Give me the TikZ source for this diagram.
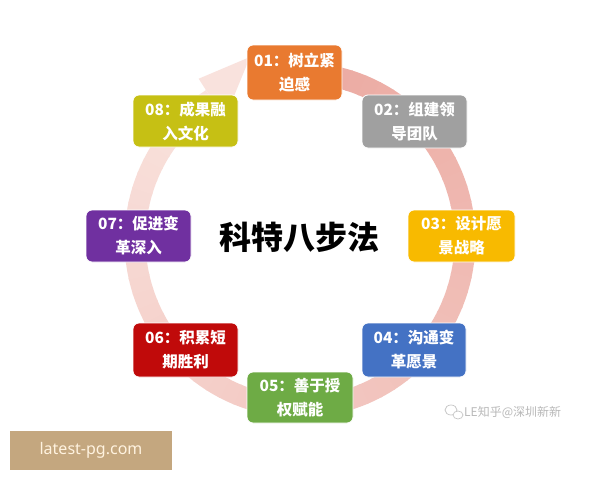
\documentclass[tikz,border=0pt]{standalone}
\usepackage{fontspec}
\setsansfont{Noto Sans}
\newfontfamily\cjk{Noto Sans CJK SC}
\definecolor{c1}{HTML}{E97A30}
\definecolor{c2}{HTML}{A0A0A0}
\definecolor{c3}{HTML}{F8BA00}
\definecolor{c4}{HTML}{4472C4}
\definecolor{c5}{HTML}{6EAB45}
\definecolor{c6}{HTML}{C00A0A}
\definecolor{c7}{HTML}{7030A0}
\definecolor{c8}{HTML}{C6C014}
\definecolor{ringA}{RGB}{236,172,164}
\definecolor{ringB}{RGB}{249,226,221}
\definecolor{site}{HTML}{C4A77F}
\definecolor{sitetext}{HTML}{FFF3E0}
\begin{document}
\begin{tikzpicture}[x=1pt,y=-1pt,
  stepbox/.style={rounded corners=6pt, minimum width=105pt, minimum height=53pt,
    inner sep=0pt, align=center, text=white, draw=white, line width=0.8pt,
    font=\cjk\bfseries\fontsize{15.5}{24}\selectfont},
  ringseg/.style={line width=21pt}
]
\useasboundingbox (0,0) rectangle (600,480);
\fill[white] (0,0) rectangle (600,480);
% ring
\foreach \i in {0,...,62} {
  \pgfmathsetmacro\a{78-5*\i}
  \pgfmathsetmacro\b{\a-5.6}
  \pgfmathsetmacro\p{100-\i*100/62}
  \draw[ringseg, color=ringA!\p!ringB] plot[domain=\b:\a, samples=5] ({300+165*cos(\x)},{240-167*sin(\x)});
}
\fill[ringB] (198.7,78.7) -- (250,57) -- (224.5,119.3) -- cycle;
% boxes
\node[stepbox, fill=c1, minimum width=95pt, minimum height=55pt] (b1) at (294.5,72.5) {01：树立紧\\迫感};
\node[stepbox, fill=c2] (b2) at (414.5,121.5) {02：组建领\\导团队};
\node[stepbox, fill=c3, minimum width=107pt, minimum height=52pt] (b3) at (461.5,236) {03：设计愿\\景战略};
\node[stepbox, fill=c4, minimum width=104pt, minimum height=54pt] (b4) at (414,350) {04：沟通变\\革愿景};
\node[stepbox, fill=c5, minimum width=106pt, minimum height=51pt] (b5) at (300,397.5) {05：善于授\\权赋能};
\node[stepbox, fill=c6, minimum height=54pt] (b6) at (185.5,350) {06：积累短\\期胜利};
\node[stepbox, fill=c7, minimum height=52pt] (b7) at (138.5,236) {07：促进变\\革深入};
\node[stepbox, fill=c8, minimum height=52pt] (b8) at (185.5,121) {08：成果融\\入文化};
% title
\node[font=\cjk\bfseries\fontsize{32}{32}\selectfont] (title) at (299,237) {科特八步法};
% site label
\node[fill=site, minimum width=162pt, minimum height=39pt, inner sep=0pt,
  text=sitetext, font=\sffamily\fontsize{16}{16}\selectfont] (site) at (91,450.5) {latest-pg.com};
% watermark
\draw[gray!45, line width=0.7pt] (451,410) ellipse (6pt and 5pt);
\draw[gray!45, line width=0.7pt, fill=white] (458,415) ellipse (5pt and 4pt);
\node[anchor=west, text=gray!55, inner sep=0pt, font=\cjk\fontsize{12}{12}\selectfont] (wm) at (464,412) {LE知乎@深圳新新};
\end{tikzpicture}
\end{document}
